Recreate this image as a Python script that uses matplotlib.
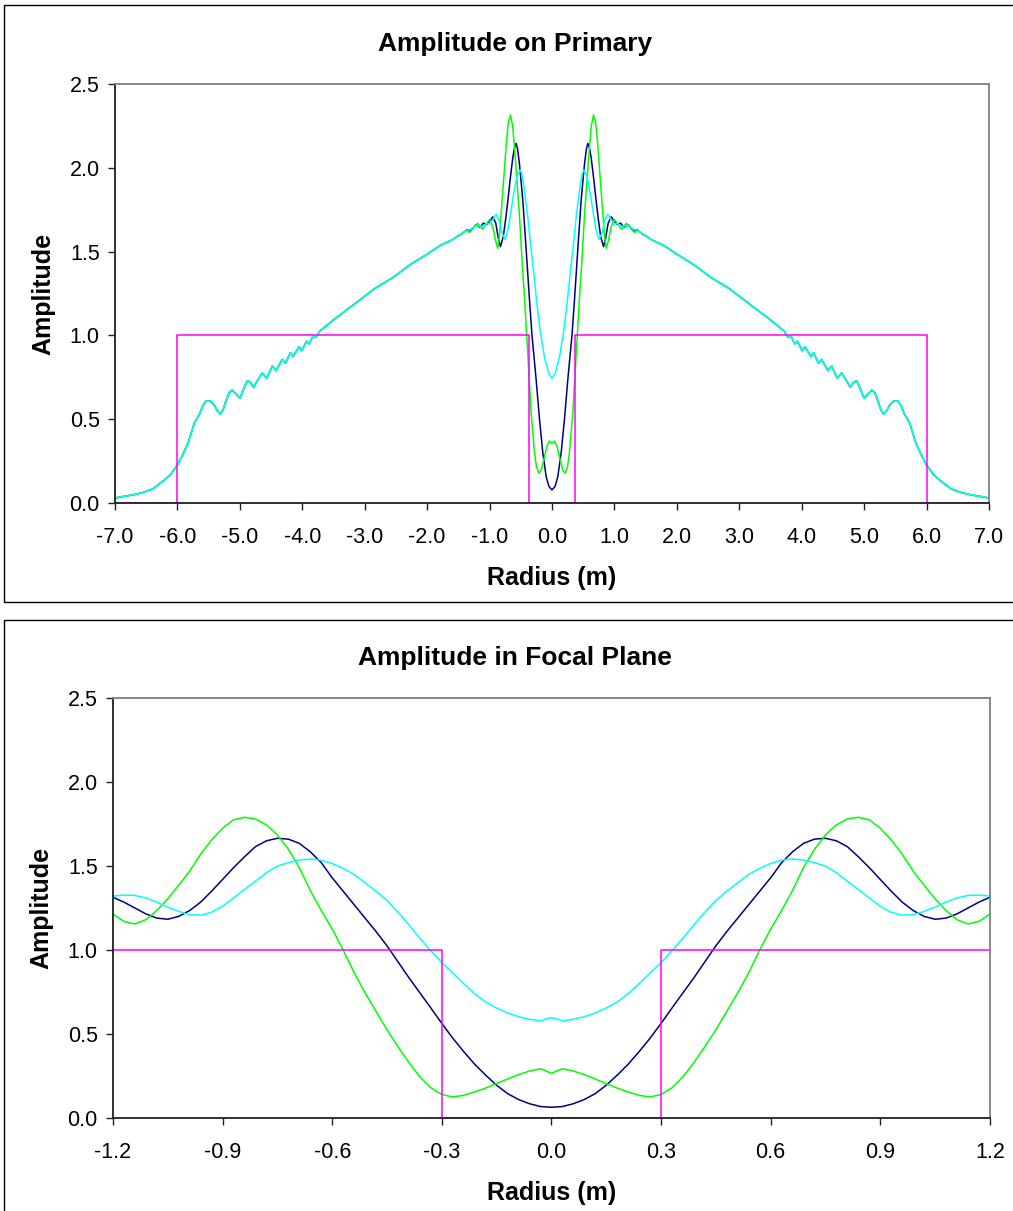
import matplotlib
matplotlib.use("Agg")
import matplotlib.pyplot as plt
from matplotlib.patches import Rectangle
import numpy as np

plt.rcParams["font.family"] = ["Liberation Sans", "DejaVu Sans"]

# Both profiles are radially symmetric: values are read for radius >= 0
# and drawn at +r and -r.

# ---- Amplitude on Primary ----
# near the centre the three curves differ
green_core_r = [0.0, 0.04, 0.08, 0.12, 0.17, 0.21, 0.25, 0.28, 0.333, 0.40, 0.44, 0.48,
                0.52, 0.56, 0.60, 0.63, 0.665, 0.70, 0.73, 0.76, 0.80, 0.84, 0.868, 0.90,
                0.95, 1.0, 1.05, 1.11, 1.19, 1.26, 1.32, 1.38, 1.45]
green_core_amp = [0.355, 0.37, 0.34, 0.276, 0.2, 0.177, 0.22, 0.30, 0.535, 0.97, 1.22, 1.45,
                  1.71, 1.92, 2.12, 2.25, 2.315, 2.27, 2.15, 2.0, 1.8, 1.6, 1.52, 1.56,
                  1.65, 1.69, 1.67, 1.633, 1.669, 1.645, 1.615, 1.625, 1.605]

navy_core_r = [0.0, 0.05, 0.093, 0.147, 0.2, 0.253, 0.32, 0.36, 0.42, 0.468, 0.52, 0.55,
               0.574, 0.60, 0.628, 0.67, 0.708, 0.74, 0.78, 0.825, 0.86, 0.90, 0.949, 1.0,
               1.05, 1.1, 1.15, 1.22, 1.3, 1.36, 1.45]
navy_core_amp = [0.078, 0.10, 0.157, 0.30, 0.50, 0.734, 1.0, 1.21, 1.55, 1.81, 2.02, 2.11,
                 2.146, 2.12, 2.06, 1.93, 1.80, 1.70, 1.59, 1.53, 1.58, 1.67, 1.708, 1.68,
                 1.662, 1.67, 1.645, 1.66, 1.625, 1.63, 1.605]

cyan_core_r = [0.0, 0.05, 0.12, 0.19, 0.25, 0.30, 0.34, 0.388, 0.45, 0.48, 0.505, 0.54,
               0.574, 0.62, 0.654, 0.70, 0.75, 0.80, 0.85, 0.894, 0.95, 1.0, 1.05, 1.1,
               1.2, 1.28, 1.36, 1.45]
cyan_core_amp = [0.744, 0.77, 0.87, 1.03, 1.22, 1.40, 1.53, 1.708, 1.89, 1.96, 1.987, 1.97,
                 1.927, 1.83, 1.748, 1.64, 1.573, 1.61, 1.69, 1.724, 1.69, 1.665, 1.67,
                 1.65, 1.655, 1.64, 1.625, 1.605]

# outer part, where the three curves lie on top of each other
wing_r = [1.5, 1.6, 1.8, 2.0, 2.28, 2.55, 2.84, 3.19, 3.51, 3.72, 3.78, 3.83, 3.89, 3.93,
          4.01, 4.05, 4.15, 4.19, 4.27, 4.32, 4.42, 4.48, 4.57, 4.64, 4.71, 4.78, 4.83,
          4.88, 4.94, 5.0, 5.06, 5.12, 5.17, 5.22, 5.27, 5.31, 5.36, 5.41, 5.47, 5.54,
          5.6, 5.64, 5.73, 5.83, 5.92, 6.0, 6.1, 6.2, 6.39, 6.55, 6.7, 6.85, 7.0]
wing_amp = [1.595, 1.57, 1.535, 1.485, 1.42, 1.345, 1.28, 1.18, 1.09, 1.025, 0.99, 0.995,
            0.95, 0.965, 0.909, 0.933, 0.873, 0.897, 0.834, 0.857, 0.79, 0.817, 0.744,
            0.777, 0.735, 0.69, 0.72, 0.73, 0.68, 0.625, 0.65, 0.674, 0.66, 0.61, 0.555,
            0.531, 0.55, 0.585, 0.607, 0.61, 0.575, 0.535, 0.476, 0.356, 0.285, 0.227,
            0.175, 0.14, 0.085, 0.063, 0.05, 0.04, 0.03]

# pupil mask (magenta)
primary_mask_r = [-7.0, -6.0, -6.0, -0.37, -0.37, 0.37, 0.37, 6.0, 6.0, 7.0]
primary_mask_amp = [0, 0, 1, 1, 0, 0, 1, 1, 0, 0]

primary_xticks = [-7.0, -6.0, -5.0, -4.0, -3.0, -2.0, -1.0, 0.0, 1.0, 2.0, 3.0, 4.0, 5.0, 6.0, 7.0]
primary_xlabels = ["-7.0", "-6.0", "-5.0", "-4.0", "-3.0", "-2.0", "-1.0", "0.0",
                   "1.0", "2.0", "3.0", "4.0", "5.0", "6.0", "7.0"]

# ---- Amplitude in Focal Plane ----
focal_green_r = [0.0, 0.02, 0.03, 0.06, 0.09, 0.12, 0.15, 0.18, 0.21, 0.24, 0.27, 0.30,
                 0.33, 0.36, 0.39, 0.42, 0.45, 0.48, 0.51, 0.54, 0.57, 0.60, 0.63, 0.66,
                 0.69, 0.72, 0.75, 0.78, 0.81, 0.84, 0.87, 0.90, 0.93, 0.96, 0.99, 1.02,
                 1.05, 1.08, 1.11, 1.14, 1.17, 1.2]
focal_green_amp = [0.266, 0.285, 0.293, 0.28, 0.258, 0.232, 0.205, 0.178, 0.155, 0.135,
                   0.125, 0.14, 0.18, 0.245, 0.33, 0.425, 0.525, 0.635, 0.745, 0.865, 1.0,
                   1.125, 1.235, 1.355, 1.49, 1.6, 1.685, 1.745, 1.78, 1.79, 1.775, 1.725,
                   1.655, 1.57, 1.47, 1.385, 1.305, 1.235, 1.18, 1.155, 1.17, 1.214]

focal_navy_r = [0.0, 0.03, 0.06, 0.09, 0.12, 0.15, 0.18, 0.21, 0.24, 0.27, 0.30, 0.33,
                0.36, 0.39, 0.42, 0.45, 0.48, 0.51, 0.54, 0.57, 0.60, 0.63, 0.66, 0.69,
                0.72, 0.75, 0.78, 0.81, 0.84, 0.87, 0.90, 0.93, 0.96, 0.99, 1.02, 1.05,
                1.08, 1.11, 1.14, 1.17, 1.2]
focal_navy_amp = [0.064, 0.068, 0.085, 0.11, 0.145, 0.195, 0.255, 0.32, 0.395, 0.475,
                  0.563, 0.655, 0.745, 0.835, 0.93, 1.025, 1.11, 1.19, 1.27, 1.35, 1.43,
                  1.52, 1.585, 1.635, 1.66, 1.665, 1.65, 1.615, 1.555, 1.49, 1.42, 1.35,
                  1.285, 1.235, 1.2, 1.183, 1.19, 1.215, 1.25, 1.285, 1.314]

focal_cyan_r = [0.0, 0.015, 0.03, 0.06, 0.09, 0.12, 0.15, 0.18, 0.21, 0.24, 0.27, 0.30,
                0.33, 0.36, 0.39, 0.42, 0.45, 0.48, 0.51, 0.54, 0.57, 0.60, 0.63, 0.66,
                0.69, 0.72, 0.75, 0.78, 0.81, 0.84, 0.87, 0.90, 0.93, 0.96, 0.99, 1.02,
                1.05, 1.08, 1.11, 1.14, 1.17, 1.2]
focal_cyan_amp = [0.597, 0.59, 0.577, 0.588, 0.603, 0.625, 0.655, 0.69, 0.74, 0.8, 0.862,
                  0.925, 0.995, 1.07, 1.15, 1.225, 1.295, 1.35, 1.4, 1.45, 1.486, 1.515,
                  1.535, 1.542, 1.535, 1.52, 1.5, 1.46, 1.41, 1.36, 1.31, 1.26, 1.225,
                  1.207, 1.21, 1.23, 1.255, 1.285, 1.31, 1.325, 1.327, 1.321]

focal_mask_r = [-1.2, -0.3, -0.3, 0.3, 0.3, 1.2]
focal_mask_amp = [1, 1, 0, 0, 1, 1]

focal_xticks = [-1.2, -0.9, -0.6, -0.3, 0.0, 0.3, 0.6, 0.9, 1.2]
focal_xlabels = ["-1.2", "-0.9", "-0.6", "-0.3", "0.0", "0.3", "0.6", "0.9", "1.2"]

yticks = [0.0, 0.5, 1.0, 1.5, 2.0, 2.5]
ylabels = ["0.0", "0.5", "1.0", "1.5", "2.0", "2.5"]

GREEN = "#00ff00"
NAVY = "#000080"
CYAN = "#00ffff"
MAGENTA = "#ff00ff"


def mirror(r, amp):
    """Radial profile -> full profile over -r..r."""
    r = np.asarray(r)
    amp = np.asarray(amp)
    return np.concatenate([-r[::-1], r[1:]]), np.concatenate([amp[::-1], amp[1:]])


def style_axes(ax, title, xlim, xticks, xlabels, title_x):
    ax.set_xlim(*xlim)
    ax.set_ylim(0, 2.5)
    ax.set_xticks(xticks)
    ax.set_xticklabels(xlabels)
    ax.set_yticks(yticks)
    ax.set_yticklabels(ylabels)
    for side in ["left", "bottom"]:
        ax.spines[side].set_color("#202020")
        ax.spines[side].set_linewidth(1.3)
    for side in ["top", "right"]:
        ax.spines[side].set_color("#808080")
        ax.spines[side].set_linewidth(1.3)
    ax.tick_params(direction="out", length=5, width=1.0, color="#202020",
                   labelsize=15.5)
    ax.tick_params(axis="x", pad=12)
    ax.tick_params(axis="y", pad=6)
    # the chart title is centred on the whole chart box, not on the plot area
    ax.set_title(title, fontsize=19, fontweight="bold", pad=24, x=title_x)
    ax.set_xlabel("Radius (m)", fontsize=18, fontweight="bold")
    ax.set_ylabel("Amplitude", fontsize=18, fontweight="bold")
    ax.xaxis.set_label_coords(0.5, -0.15)
    ax.yaxis.set_label_coords(-0.068, 0.5)


fig = plt.figure(figsize=(10.13, 12.11), dpi=100)

# chart boxes (right edge and the lower box's bottom run off the picture)
for y0, h in [(0.5029, 0.4930), (-0.01, 0.4982)]:
    fig.patches.append(Rectangle((0.0039, y0), 1.0, h, transform=fig.transFigure,
                                 fill=False, edgecolor="black", linewidth=1.0))

# top chart
ax1 = fig.add_axes([0.1135, 0.5846, 0.8628, 0.3460])
for core_r, core_amp, color in [
    (navy_core_r, navy_core_amp, NAVY),
    (green_core_r, green_core_amp, GREEN),
    (cyan_core_r, cyan_core_amp, CYAN),
]:
    r_full, a_full = mirror(np.concatenate([core_r, wing_r]),
                            np.concatenate([core_amp, wing_amp]))
    ax1.plot(r_full, a_full, color=color, linewidth=1.1)
ax1.plot(primary_mask_r, primary_mask_amp, color=MAGENTA, linewidth=1.1)
style_axes(ax1, "Amplitude on Primary", (-7, 7), primary_xticks, primary_xlabels, 0.458)

# bottom chart
ax2 = fig.add_axes([0.1115, 0.0768, 0.8657, 0.3468])
for r, amp, color in [
    (focal_navy_r, focal_navy_amp, NAVY),
    (focal_green_r, focal_green_amp, GREEN),
    (focal_cyan_r, focal_cyan_amp, CYAN),
]:
    r_full, a_full = mirror(r, amp)
    ax2.plot(r_full, a_full, color=color, linewidth=1.1)
ax2.plot(focal_mask_r, focal_mask_amp, color=MAGENTA, linewidth=1.1)
style_axes(ax2, "Amplitude in Focal Plane", (-1.2, 1.2), focal_xticks, focal_xlabels, 0.458)

fig.savefig("out.png", dpi=100)
